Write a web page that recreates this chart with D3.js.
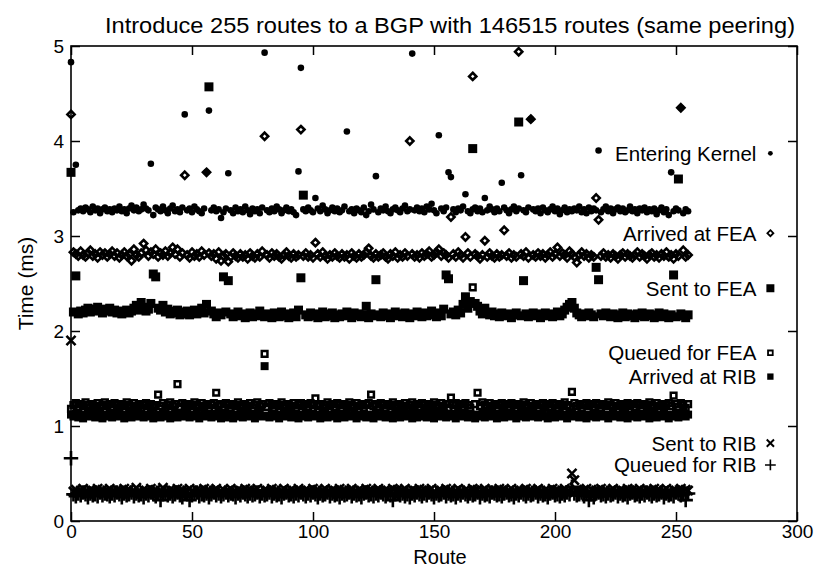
<!DOCTYPE html>
<html>
<head>
<meta charset="utf-8">
<script src="https://cdn.jsdelivr.net/npm/d3@7"></script>
<style>
  html, body { margin: 0; padding: 0; background: #fff; }
  svg { display: block; }
  text { font-family: "Liberation Sans", Arial, Helvetica, sans-serif; fill: #000; }
</style>
</head>
<body>
<svg id="chart" width="819" height="567"></svg>
<script>
// ---------------- DATA ----------------
const titleText = "Introduce 255 routes to a BGP with 146515 routes (same peering)";
const xLabel = "Route";
const yLabel = "Time (ms)";
const xTicks = [0, 50, 100, 150, 200, 250, 300];
const yTicks = [0, 1, 2, 3, 4, 5];
const seriesNames = ["Entering Kernel", "Arrived at FEA", "Sent to FEA", "Queued for FEA", "Arrived at RIB", "Sent to RIB", "Queued for RIB"];

const enteringKernel = [
4.83,3.25,3.75,3.27,3.29,3.26,3.30,3.28,3.25,3.31,3.27,3.29,3.24,3.28,3.30,3.26,
3.28,3.25,3.29,3.27,3.31,3.26,3.28,3.24,3.29,3.32,3.27,3.30,3.26,3.28,3.33,3.29,
3.27,3.76,3.22,3.30,3.28,3.26,3.31,3.27,3.24,3.29,3.32,3.26,3.28,3.25,3.30,4.28,
3.27,3.29,3.25,3.31,3.28,3.26,3.24,3.29,3.67,4.32,3.27,3.30,3.26,3.28,3.19,3.25,
3.29,3.66,3.27,3.24,3.30,3.26,3.28,3.25,3.31,3.27,3.23,3.29,3.26,3.28,3.24,3.30,
4.93,3.27,3.25,3.29,3.26,3.31,3.28,3.24,3.27,3.30,3.26,3.28,3.25,3.22,3.68,4.77,
3.28,3.26,3.30,3.27,3.25,3.40,3.29,3.26,3.32,3.28,3.24,3.27,3.30,3.26,3.29,3.25,
3.27,3.31,4.10,3.26,3.28,3.24,3.29,3.27,3.25,3.30,3.22,3.26,3.33,3.28,3.63,3.25,
3.29,3.27,3.31,3.26,3.24,3.28,3.30,3.27,3.25,3.29,3.32,3.26,3.28,4.92,3.27,3.30,
3.26,3.29,3.25,3.31,3.28,3.34,3.27,3.24,4.06,3.29,3.26,3.30,3.67,3.62,3.28,3.25,
3.29,3.27,3.31,3.44,3.26,3.24,3.28,3.30,3.26,3.29,3.25,3.40,3.27,3.31,3.28,3.25,
3.29,3.26,3.56,3.30,3.27,3.24,3.28,3.31,3.26,3.29,3.64,3.27,3.25,3.30,4.23,3.28,
3.26,3.29,3.24,3.30,3.27,3.25,3.28,3.31,3.26,3.29,3.23,3.27,3.30,3.25,3.28,3.26,
3.29,3.27,3.31,3.25,3.28,3.24,3.30,3.26,3.29,3.27,3.90,3.25,3.28,3.31,3.26,3.29,
3.24,3.28,3.30,3.26,3.29,3.25,3.27,3.31,3.26,3.28,3.24,3.29,3.27,3.30,3.25,3.28,
3.26,3.29,3.23,3.27,3.30,3.25,3.28,3.22,3.67,3.26,3.29,3.27,4.35,3.24,3.28,3.26];

const arrivedAtFEA = [
4.28,2.83,2.81,2.79,2.84,2.80,2.78,2.82,2.85,2.79,2.81,2.77,2.83,2.80,2.82,2.78,
2.81,2.84,2.79,2.82,2.77,2.80,2.83,2.79,2.81,2.74,2.86,2.80,2.78,2.82,2.92,2.85,
2.79,2.83,2.81,2.86,2.78,2.82,2.80,2.84,2.79,2.82,2.88,2.81,2.86,2.78,2.82,3.64,
2.80,2.77,2.83,2.79,2.81,2.78,2.84,2.80,3.67,2.82,2.79,2.81,2.76,2.83,2.74,2.79,
2.81,2.73,2.78,2.82,2.79,2.77,2.81,2.78,2.80,2.76,2.82,2.79,2.77,2.81,2.78,2.84,
4.05,2.80,2.77,2.82,2.79,2.81,2.78,2.76,2.80,2.83,2.79,2.77,2.81,2.78,2.80,4.12,
2.79,2.82,2.78,2.80,2.77,2.93,2.81,2.78,2.83,2.79,2.76,2.80,2.78,2.82,2.79,2.77,
2.81,2.78,2.80,2.76,2.82,2.79,2.77,2.81,2.78,2.80,2.83,2.87,2.79,2.77,2.81,2.78,
2.80,2.82,2.78,2.76,2.81,2.79,2.83,2.77,2.80,2.78,2.82,2.79,4.00,2.81,2.78,2.80,
2.77,2.82,2.79,2.81,2.84,2.78,2.80,2.83,2.86,2.79,2.82,2.80,2.77,3.20,2.81,2.78,
2.83,2.80,2.77,2.99,2.82,2.78,4.68,2.81,2.79,2.76,2.80,2.95,2.78,2.82,2.79,2.77,
2.81,2.78,2.80,3.06,2.79,2.82,2.77,2.80,2.78,4.94,2.81,2.79,2.83,2.77,4.23,2.80,
2.78,2.82,2.79,2.81,2.77,2.80,2.83,2.78,2.81,2.88,2.79,2.82,2.80,2.77,2.84,2.81,
2.78,2.72,2.80,2.83,2.79,2.81,2.77,2.80,2.78,3.40,3.17,2.79,2.82,2.78,2.80,2.77,
2.81,2.79,2.76,2.80,2.82,2.78,2.81,2.79,2.77,2.80,2.83,2.78,2.81,2.79,2.76,2.80,
2.82,2.78,2.80,2.77,2.81,2.79,2.83,2.78,2.80,2.76,2.81,2.79,4.35,2.85,2.78,2.80];

const sentToFEA = [
3.67,2.20,2.58,2.18,2.21,2.19,2.22,2.24,2.20,2.23,2.21,2.25,2.22,2.19,2.23,2.21,
2.24,2.20,2.22,2.19,2.21,2.18,2.20,2.22,2.19,2.21,2.24,2.27,2.22,2.30,2.25,2.21,
2.23,2.29,2.60,2.57,2.24,2.22,2.27,2.20,2.23,2.18,2.21,2.19,2.22,2.17,2.20,2.18,
2.21,2.17,2.19,2.22,2.18,2.20,2.24,2.19,2.28,4.57,2.21,2.18,2.15,2.19,2.17,2.57,
2.20,2.53,2.18,2.15,2.17,2.20,2.16,2.18,2.14,2.17,2.19,2.15,2.18,2.16,2.21,2.17,
2.15,2.18,2.16,2.14,2.19,2.17,2.15,2.20,2.16,2.18,2.14,2.17,2.19,2.15,2.22,2.56,
3.43,2.17,2.15,2.19,2.16,2.18,2.14,2.17,2.20,2.15,2.18,2.16,2.19,2.14,2.17,2.15,
2.18,2.16,2.20,2.17,2.14,2.19,2.16,2.18,2.15,2.17,2.26,2.14,2.18,2.16,2.54,2.17,
2.15,2.19,2.16,2.18,2.14,2.17,2.20,2.16,2.18,2.15,2.19,2.17,2.14,2.18,2.16,2.20,
2.17,2.15,2.19,2.16,2.18,2.21,2.17,2.15,2.19,2.16,2.23,2.59,2.55,2.18,2.20,2.17,
2.22,2.19,2.28,2.36,2.24,2.31,3.92,2.29,2.26,2.21,2.18,2.24,2.19,2.17,2.20,2.16,
2.18,2.15,2.19,2.17,2.16,2.18,2.14,2.17,2.19,4.20,2.16,2.53,2.18,2.15,2.17,2.19,
2.16,2.18,2.14,2.17,2.19,2.16,2.18,2.15,2.17,2.20,2.16,2.18,2.22,2.25,2.28,2.30,
2.24,2.19,2.17,2.15,2.18,2.16,2.19,2.17,2.15,2.67,2.54,2.18,2.16,2.19,2.17,2.15,
2.18,2.16,2.14,2.17,2.19,2.15,2.18,2.16,2.17,2.14,2.18,2.16,2.19,2.15,2.17,2.18,
2.16,2.14,2.17,2.19,2.15,2.18,2.16,2.14,2.17,2.59,2.15,3.60,2.18,2.16,2.14,2.17];

const queuedForFEA = [
1.18,1.22,1.24,1.20,1.23,1.21,1.25,1.22,1.19,1.23,1.21,1.24,1.20,1.22,1.25,1.21,
1.23,1.20,1.24,1.22,1.19,1.23,1.21,1.25,1.22,1.20,1.24,1.21,1.23,1.19,1.22,1.24,
1.21,1.23,1.20,1.22,1.33,1.21,1.24,1.19,1.22,1.25,1.21,1.23,1.44,1.20,1.24,1.22,
1.19,1.23,1.21,1.25,1.22,1.20,1.24,1.21,1.23,1.19,1.22,1.24,1.35,1.21,1.23,1.20,
1.24,1.22,1.19,1.23,1.21,1.25,1.22,1.20,1.23,1.21,1.24,1.19,1.22,1.25,1.21,1.23,
1.76,1.20,1.24,1.22,1.19,1.23,1.21,1.25,1.22,1.20,1.23,1.21,1.24,1.19,1.22,1.24,
1.21,1.23,1.20,1.24,1.22,1.29,1.21,1.23,1.19,1.22,1.25,1.21,1.23,1.20,1.24,1.22,
1.19,1.23,1.21,1.25,1.22,1.20,1.24,1.21,1.23,1.19,1.22,1.24,1.33,1.21,1.23,1.20,
1.24,1.22,1.19,1.23,1.21,1.25,1.22,1.20,1.23,1.21,1.24,1.19,1.22,1.25,1.21,1.23,
1.20,1.24,1.22,1.19,1.23,1.21,1.25,1.22,1.20,1.24,1.21,1.23,1.19,1.30,1.22,1.24,
1.21,1.23,1.20,1.24,1.22,1.19,2.46,1.23,1.35,1.21,1.25,1.22,1.20,1.24,1.21,1.23,
1.19,1.22,1.24,1.21,1.23,1.20,1.24,1.22,1.19,1.23,1.21,1.25,1.22,1.20,1.24,1.21,
1.23,1.19,1.22,1.24,1.21,1.23,1.20,1.24,1.22,1.19,1.23,1.21,1.25,1.22,1.20,1.36,
1.24,1.21,1.23,1.19,1.22,1.24,1.21,1.23,1.20,1.24,1.22,1.19,1.23,1.21,1.25,1.22,
1.20,1.24,1.21,1.23,1.19,1.22,1.24,1.21,1.23,1.20,1.24,1.22,1.19,1.23,1.21,1.25,
1.22,1.20,1.24,1.21,1.23,1.19,1.22,1.24,1.21,1.32,1.23,1.20,1.24,1.22,1.19,1.23];

const arrivedAtRIB = [
1.12,1.10,1.13,1.09,1.12,1.08,1.11,1.14,1.10,1.12,1.09,1.13,1.11,1.08,1.12,1.10,
1.13,1.09,1.11,1.14,1.10,1.12,1.08,1.11,1.13,1.09,1.12,1.10,1.14,1.11,1.09,1.12,
1.10,1.13,1.08,1.11,1.12,1.09,1.14,1.10,1.12,1.08,1.11,1.13,1.09,1.12,1.10,1.14,
1.11,1.09,1.12,1.10,1.13,1.08,1.11,1.14,1.10,1.12,1.09,1.11,1.13,1.10,1.08,1.12,
1.09,1.13,1.11,1.08,1.12,1.10,1.14,1.09,1.11,1.13,1.10,1.12,1.08,1.11,1.14,1.10,
1.63,1.11,1.09,1.13,1.10,1.12,1.08,1.11,1.14,1.10,1.12,1.09,1.13,1.11,1.08,1.12,
1.10,1.14,1.09,1.11,1.13,1.10,1.12,1.08,1.11,1.14,1.09,1.12,1.10,1.13,1.08,1.11,
1.12,1.09,1.13,1.10,1.11,1.14,1.08,1.12,1.10,1.13,1.09,1.11,1.12,1.08,1.14,1.10,
1.11,1.13,1.09,1.12,1.10,1.08,1.13,1.11,1.09,1.12,1.14,1.10,1.11,1.08,1.13,1.09,
1.12,1.10,1.14,1.09,1.11,1.13,1.08,1.12,1.10,1.11,1.14,1.09,1.12,1.10,1.13,1.08,
1.11,1.14,1.10,1.12,1.09,1.13,1.11,1.08,1.12,1.10,1.14,1.09,1.11,1.13,1.10,1.12,
1.08,1.11,1.13,1.09,1.12,1.10,1.14,1.11,1.08,1.12,1.10,1.13,1.09,1.11,1.14,1.10,
1.12,1.09,1.11,1.13,1.10,1.08,1.12,1.14,1.09,1.11,1.13,1.10,1.12,1.08,1.11,1.14,
1.10,1.12,1.09,1.13,1.11,1.08,1.12,1.10,1.14,1.09,1.11,1.13,1.10,1.12,1.08,1.11,
1.13,1.10,1.12,1.09,1.11,1.14,1.08,1.12,1.10,1.13,1.09,1.11,1.12,1.10,1.14,1.08,
1.11,1.13,1.09,1.12,1.10,1.14,1.11,1.08,1.12,1.10,1.13,1.09,1.11,1.14,1.10,1.12];

const sentToRIB = [
1.90,0.31,0.33,0.30,0.32,0.34,0.31,0.29,0.33,0.32,0.30,0.34,0.31,0.33,0.29,0.32,
0.34,0.31,0.30,0.33,0.32,0.29,0.34,0.31,0.33,0.30,0.32,0.35,0.31,0.29,0.33,0.32,
0.30,0.34,0.31,0.33,0.29,0.32,0.35,0.31,0.30,0.33,0.32,0.29,0.34,0.31,0.33,0.30,
0.32,0.34,0.31,0.29,0.33,0.32,0.30,0.34,0.31,0.33,0.29,0.32,0.34,0.30,0.31,0.33,
0.29,0.32,0.34,0.31,0.30,0.33,0.32,0.29,0.34,0.31,0.33,0.30,0.32,0.34,0.31,0.29,
0.33,0.32,0.30,0.34,0.31,0.33,0.29,0.32,0.34,0.30,0.31,0.33,0.32,0.29,0.34,0.31,
0.30,0.33,0.32,0.29,0.34,0.31,0.33,0.30,0.32,0.34,0.31,0.29,0.33,0.32,0.30,0.34,
0.31,0.33,0.29,0.32,0.34,0.30,0.31,0.33,0.32,0.29,0.34,0.31,0.33,0.30,0.32,0.34,
0.31,0.29,0.33,0.32,0.30,0.34,0.31,0.33,0.29,0.32,0.34,0.30,0.31,0.33,0.32,0.29,
0.34,0.31,0.33,0.30,0.32,0.34,0.31,0.29,0.33,0.32,0.30,0.34,0.31,0.33,0.29,0.32,
0.34,0.31,0.30,0.33,0.32,0.29,0.34,0.31,0.33,0.30,0.32,0.34,0.31,0.29,0.33,0.32,
0.30,0.34,0.31,0.33,0.29,0.32,0.34,0.30,0.31,0.33,0.32,0.29,0.34,0.31,0.33,0.30,
0.32,0.34,0.31,0.29,0.33,0.32,0.30,0.34,0.31,0.33,0.29,0.32,0.34,0.30,0.31,0.50,
0.43,0.33,0.31,0.29,0.32,0.34,0.30,0.33,0.31,0.32,0.29,0.34,0.31,0.33,0.30,0.32,
0.34,0.31,0.29,0.33,0.32,0.30,0.34,0.31,0.33,0.29,0.32,0.34,0.30,0.31,0.33,0.32,
0.29,0.34,0.31,0.33,0.30,0.32,0.34,0.31,0.29,0.33,0.32,0.30,0.34,0.31,0.33,0.32];

const queuedForRIB = [
0.66,0.28,0.26,0.29,0.27,0.30,0.28,0.25,0.29,0.27,0.28,0.26,0.30,0.27,0.29,0.28,
0.26,0.29,0.27,0.30,0.28,0.25,0.29,0.27,0.28,0.30,0.26,0.29,0.27,0.28,0.25,0.29,
0.27,0.30,0.28,0.26,0.29,0.22,0.28,0.30,0.27,0.29,0.26,0.28,0.30,0.27,0.25,0.29,
0.28,0.22,0.27,0.29,0.30,0.26,0.28,0.27,0.29,0.25,0.28,0.30,0.27,0.29,0.26,0.28,
0.30,0.27,0.29,0.28,0.25,0.29,0.27,0.30,0.28,0.26,0.29,0.27,0.28,0.30,0.26,0.29,
0.27,0.28,0.30,0.26,0.29,0.27,0.28,0.25,0.29,0.30,0.27,0.28,0.26,0.29,0.27,0.30,
0.28,0.26,0.29,0.27,0.30,0.28,0.25,0.29,0.27,0.28,0.30,0.26,0.29,0.27,0.28,0.25,
0.29,0.27,0.28,0.30,0.26,0.29,0.27,0.28,0.25,0.29,0.30,0.27,0.28,0.26,0.29,0.27,
0.30,0.28,0.26,0.29,0.27,0.22,0.28,0.30,0.27,0.29,0.26,0.28,0.25,0.29,0.27,0.30,
0.28,0.26,0.29,0.27,0.30,0.28,0.25,0.29,0.27,0.28,0.30,0.26,0.29,0.27,0.28,0.25,
0.29,0.27,0.30,0.28,0.26,0.29,0.27,0.28,0.30,0.25,0.29,0.27,0.28,0.26,0.30,0.29,
0.27,0.28,0.26,0.29,0.30,0.27,0.28,0.25,0.29,0.27,0.30,0.28,0.26,0.29,0.27,0.28,
0.30,0.26,0.29,0.27,0.28,0.25,0.29,0.30,0.27,0.28,0.26,0.29,0.27,0.30,0.28,0.36,
0.29,0.27,0.28,0.30,0.26,0.29,0.22,0.28,0.25,0.29,0.30,0.27,0.28,0.26,0.29,0.27,
0.28,0.30,0.26,0.29,0.27,0.28,0.25,0.29,0.30,0.27,0.28,0.26,0.29,0.27,0.30,0.28,
0.26,0.29,0.27,0.28,0.30,0.25,0.29,0.27,0.28,0.26,0.30,0.29,0.27,0.28,0.22,0.29];

// label anchor positions (data units) for the in-plot key
const keyX = 289;
const keyY = [3.87, 3.03, 2.45, 1.77, 1.52, 0.82, 0.59];

// ---------------- LAYOUT ----------------
const L = 71, R = 797, T = 46, B = 521;
const svg = d3.select("#chart");
const x = d3.scaleLinear().domain([0, 300]).range([L, R]);
const y = d3.scaleLinear().domain([0, 5]).range([B, T]);

// square-ish diamond (equal width/height)
const rhombus = {
  draw(ctx, size) {
    const r = Math.sqrt(size / 2);
    ctx.moveTo(0, -r); ctx.lineTo(r, 0); ctx.lineTo(0, r); ctx.lineTo(-r, 0); ctx.closePath();
  }
};

const styles = [
  {type: d3.symbolCircle, size: 34, fill: "#000", stroke: "none", sw: 0},   // Entering Kernel
  {type: rhombus,         size: 26, fill: "none", stroke: "#000", sw: 2.6}, // Arrived at FEA
  {type: d3.symbolSquare, size: 81, fill: "#000", stroke: "none", sw: 0},   // Sent to FEA
  {type: d3.symbolSquare, size: 32, fill: "none", stroke: "#000", sw: 2.5}, // Queued for FEA
  {type: d3.symbolSquare, size: 64, fill: "#000", stroke: "none", sw: 0},   // Arrived at RIB
  {type: d3.symbolX,      size: 56, fill: "none", stroke: "#000", sw: 2.6}, // Sent to RIB
  {type: d3.symbolPlus,   size: 70, fill: "none", stroke: "#000", sw: 2.6}  // Queued for RIB
];
const keyStyles = [
  {size: 18, sw: 0}, {size: 18, sw: 1.8}, {size: 64, sw: 0}, {size: 22, sw: 1.8},
  {size: 40, sw: 0}, {size: 36, sw: 2}, {size: 40, sw: 1.6}
];
const seriesData = [enteringKernel, arrivedAtFEA, sentToFEA, queuedForFEA, arrivedAtRIB, sentToRIB, queuedForRIB];
const drawOrder = [6, 5, 4, 3, 2, 1, 0];

// ticks (inward, mirrored)
const tick = 9;
const gx = svg.append("g").attr("transform", `translate(0,${B})`)
  .call(d3.axisBottom(x).tickValues(xTicks).tickSize(-tick).tickPadding(3).tickFormat(d3.format("d")));
const gxt = svg.append("g").attr("transform", `translate(0,${T})`)
  .call(d3.axisTop(x).tickValues(xTicks).tickSize(-tick).tickFormat(""));
const gy = svg.append("g").attr("transform", `translate(${L},0)`)
  .call(d3.axisLeft(y).tickValues(yTicks).tickSize(-tick).tickPadding(7).tickFormat(d3.format("d")));
const gyr = svg.append("g").attr("transform", `translate(${R},0)`)
  .call(d3.axisRight(y).tickValues(yTicks).tickSize(-tick).tickFormat(""));
[gx, gxt, gy, gyr].forEach(g => {
  g.select(".domain").remove();
  g.selectAll(".tick line").attr("stroke", "#000").attr("stroke-width", 1.5);
  g.selectAll(".tick text").attr("font-size", 19).attr("font-family", "Liberation Sans, Arial, sans-serif").attr("fill", "#000");
});

// markers
const plot = svg.append("g");
drawOrder.forEach(si => {
  const st = styles[si];
  const sym = d3.symbol().type(st.type).size(st.size);
  plot.append("g").selectAll("path")
    .data(seriesData[si].map((v, i) => ({r: i, v: v})))
    .join("path")
    .attr("d", sym)
    .attr("transform", d => `translate(${x(d.r)},${y(d.v)})`)
    .attr("fill", st.fill)
    .attr("stroke", st.stroke)
    .attr("stroke-width", st.sw);
});

// frame
svg.append("rect").attr("x", L).attr("y", T).attr("width", R - L).attr("height", B - T)
  .attr("fill", "none").attr("stroke", "#000").attr("stroke-width", 1.6);

// key
seriesNames.forEach((name, i) => {
  const st = styles[i];
  const yy = y(keyY[i]);
  svg.append("text").attr("x", x(keyX) - 14).attr("y", yy).attr("text-anchor", "end")
    .attr("dominant-baseline", "central").attr("font-size", 20.5).text(name);
  svg.append("path").attr("d", d3.symbol().type(st.type).size(keyStyles[i].size)())
    .attr("transform", `translate(${x(keyX)},${yy})`)
    .attr("fill", st.fill).attr("stroke", st.stroke).attr("stroke-width", keyStyles[i].sw);
});

// titles
svg.append("text").attr("x", 450).attr("y", 33).attr("text-anchor", "middle")
  .attr("font-size", 22).attr("textLength", 690).attr("lengthAdjust", "spacingAndGlyphs").text(titleText);
svg.append("text").attr("x", 440).attr("y", 564).attr("text-anchor", "middle")
  .attr("font-size", 20).text(xLabel);
svg.append("text").attr("transform", `translate(25,${(T + B) / 2}) rotate(-90)`)
  .attr("text-anchor", "middle").attr("dominant-baseline", "central")
  .attr("font-size", 21).text(yLabel);
</script>
</body>
</html>
